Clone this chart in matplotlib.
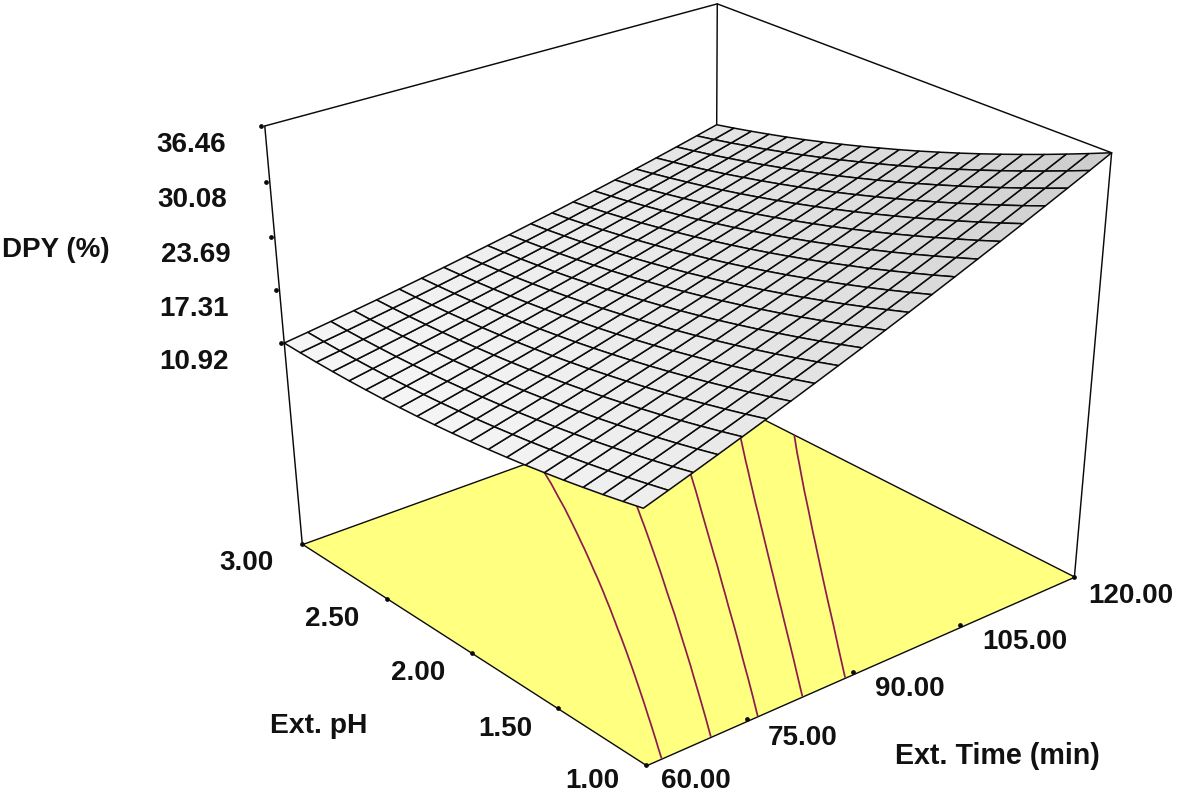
import numpy as np
import matplotlib
matplotlib.use('Agg')
import matplotlib.pyplot as plt
from mpl_toolkits.mplot3d.art3d import Poly3DCollection

# ---- data ----
time_grid = [60, 63, 66, 69, 72, 75, 78, 81, 84, 87, 90, 93, 96, 99, 102, 105, 108, 111, 114, 117, 120]
ph_grid = [1.0, 1.1, 1.2, 1.3, 1.4, 1.5, 1.6, 1.7, 1.8, 1.9, 2.0, 2.1, 2.2, 2.3, 2.4, 2.5, 2.6, 2.7, 2.8, 2.9, 3.0]
# one row per pH, one column per time
dpy = [
 [15.40,16.33,17.27,18.23,19.20,20.18,21.17,22.18,23.20,24.23,25.28,26.34,27.41,28.50,29.60,30.71,31.83,32.97,34.12,35.28,36.46],
 [14.88,15.79,16.70,17.63,18.58,19.53,20.50,21.49,22.48,23.49,24.51,25.55,26.59,27.65,28.73,29.81,30.91,32.02,33.15,34.29,35.44],
 [14.39,15.27,16.17,17.07,17.99,18.92,19.86,20.82,21.79,22.77,23.77,24.78,25.80,26.84,27.89,28.95,30.02,31.11,32.21,33.32,34.45],
 [13.94,14.79,15.66,16.54,17.43,18.34,19.26,20.19,21.13,22.09,23.06,24.04,25.04,26.05,27.07,28.11,29.16,30.22,31.30,32.38,33.48],
 [13.51,14.34,15.18,16.04,16.90,17.78,18.68,19.58,20.50,21.44,22.38,23.34,24.31,25.29,26.29,27.30,28.33,29.36,30.41,31.47,32.55],
 [13.12,13.92,14.74,15.56,16.41,17.26,18.13,19.01,19.90,20.81,21.73,22.66,23.61,24.57,25.54,26.52,27.52,28.53,29.56,30.59,31.64],
 [12.75,13.53,14.32,15.12,15.94,16.77,17.61,18.47,19.33,20.22,21.11,22.02,22.94,23.87,24.82,25.77,26.75,27.73,28.73,29.74,30.76],
 [12.42,13.17,13.94,14.71,15.50,16.31,17.12,17.95,18.79,19.65,20.52,21.40,22.29,23.20,24.12,25.05,26.00,26.96,27.93,28.92,29.91],
 [12.12,12.85,13.58,14.33,15.10,15.88,16.67,17.47,18.29,19.11,19.96,20.81,21.68,22.56,23.45,24.36,25.28,26.22,27.16,28.12,29.09],
 [11.85,12.55,13.26,13.99,14.72,15.47,16.24,17.02,17.81,18.61,19.42,20.25,21.10,21.95,22.82,23.70,24.59,25.50,26.42,27.35,28.29],
 [11.61,12.28,12.97,13.67,14.38,15.10,15.84,16.59,17.36,18.13,18.92,19.73,20.54,21.37,22.21,23.07,23.93,24.81,25.71,26.62,27.53],
 [11.40,12.05,12.71,13.38,14.06,14.76,15.47,16.20,16.94,17.69,18.45,19.23,20.02,20.82,21.63,22.46,23.30,24.16,25.02,25.91,26.80],
 [11.22,11.84,12.48,13.12,13.78,14.45,15.14,15.84,16.55,17.27,18.01,18.76,19.52,20.30,21.08,21.89,22.70,23.53,24.37,25.22,26.09],
 [11.08,11.67,12.28,12.90,13.53,14.17,14.83,15.50,16.19,16.88,17.59,18.32,19.05,19.80,20.57,21.34,22.13,22.93,23.74,24.57,25.41],
 [10.96,11.53,12.11,12.70,13.31,13.92,14.56,15.20,15.86,16.53,17.21,17.91,18.62,19.34,20.07,20.82,21.58,22.36,23.15,23.95,24.76],
 [10.88,11.42,11.97,12.54,13.11,13.70,14.31,14.93,15.56,16.20,16.86,17.53,18.21,18.91,19.61,20.34,21.07,21.82,22.58,23.35,24.13],
 [10.82,11.34,11.86,12.40,12.95,13.52,14.09,14.68,15.29,15.90,16.53,17.18,17.83,18.50,19.18,19.88,20.58,21.30,22.04,22.78,23.54],
 [10.80,11.29,11.79,12.30,12.82,13.36,13.91,14.47,15.05,15.64,16.24,16.85,17.48,18.12,18.78,19.45,20.13,20.82,21.53,22.25,22.98],
 [10.81,11.27,11.74,12.22,12.72,13.23,13.75,14.29,14.84,15.40,15.97,16.56,17.16,17.78,18.40,19.04,19.70,20.36,21.04,21.73,22.44],
 [10.85,11.28,11.72,12.18,12.65,13.13,13.63,14.14,14.66,15.19,15.74,16.30,16.87,17.46,18.06,18.67,19.30,19.94,20.59,21.25,21.93],
 [10.92,11.32,11.74,12.17,12.61,13.06,13.53,14.01,14.51,15.02,15.53,16.07,16.61,17.17,17.75,18.33,18.93,19.54,20.16,20.80,21.45],
]
contour_levels = [16, 18, 20, 22, 24]
z_tick_labels = ['36.46', '30.08', '23.69', '17.31', '10.92']
z_ticks = [36.46, 30.08, 23.69, 17.31, 10.92]
time_tick_labels = ['60.00', '75.00', '90.00', '105.00', '120.00']
ph_tick_labels = ['1.00', '1.50', '2.00', '2.50', '3.00']
time_tick_marks = [73.3, 87.8, 103.1]
ph_tick_marks = [1.47, 1.95, 2.46]
T_MIN, T_MAX, P_MIN, P_MAX, Z_FLOOR, Z_TOP = 60, 120, 1, 3, -15.0, 36.46

W, H = 1178, 795
fig = plt.figure(figsize=(W / 100, H / 100), dpi=100)
ax = fig.add_axes([0, 0, 1, 1], projection='3d', computed_zorder=False)
ax.apply_aspect = lambda position=None: None
ax.set_position([0, 0, 1, 1])
ax.set_axis_off()
ax.set_proj_type('ortho')  # the matrix below carries the perspective; this only turns off line clipping

# ---- camera: perspective matrix calibrated on the box corners (image pixels) ----
calib = [(60, 1, Z_FLOOR, 646.7, 766), (120, 1, Z_FLOOR, 1074, 576), (60, 3, Z_FLOOR, 301.7, 542.7),
         (120, 3, Z_FLOOR, 716, 396), (60, 3, Z_TOP, 265, 126.7), (120, 1, Z_TOP, 1111.7, 152.7),
         (120, 3, Z_TOP, 717, 3.3)]
S = np.array([[1 / 30, 0, 0, -3], [0, 1, 0, -2], [0, 0, 1 / 24, -0.5], [0, 0, 0, 1.0]])
rows = []
for t, p, z, x, y in calib:
    X = S @ np.array([t, p, z, 1.0])
    rows.append(np.r_[X, 0 * X, -x / 1000 * X])
    rows.append(np.r_[0 * X, X, -y / 1000 * X])
Pm = np.linalg.svd(np.array(rows))[2][-1].reshape(3, 4)
Pm[:2] *= 1000
inv = ax.transData.inverted()
x0, y0 = inv.transform((0, H))
x1, y1 = inv.transform((W, 0))
row_x = (x0 * Pm[2] + (x1 - x0) / W * Pm[0]) @ S
row_y = (y0 * Pm[2] + (y1 - y0) / H * Pm[1]) @ S
row_w = Pm[2] @ S
row_d = np.array([0, 0, 0.01, 0.0])
M = np.array([row_x, row_y, row_d, row_w])
ax.get_proj = lambda: M

INK = '#0a0a0a'
# floor
floor = Poly3DCollection([[(T_MIN, P_MIN, Z_FLOOR), (T_MAX, P_MIN, Z_FLOOR),
                           (T_MAX, P_MAX, Z_FLOOR), (T_MIN, P_MAX, Z_FLOOR)]],
                         facecolor='#FFFF80', edgecolor=INK, linewidth=1.0, zorder=1)
ax.add_collection3d(floor)

# surface and its contours projected on the floor
T, P = np.meshgrid(time_grid, ph_grid)
Z = np.array(dpy)
cs = ax.contour(T, P, Z, levels=contour_levels, zdir='z', offset=Z_FLOOR,
                colors='#8E1B50', linewidths=1.25, zorder=2)
gray = 0.96 - (Z - 10.92) / 25.54 * 0.16
fc = np.dstack([gray, gray, gray, np.ones_like(gray)])
ax.plot_surface(T, P, Z, rstride=1, cstride=1, facecolors=fc, edgecolor=INK, linewidth=1.1,
                shade=False, antialiased=True, zorder=4)

# box edges
edge_kw = dict(color=INK, lw=1.05, solid_capstyle='round')
ax.plot([T_MIN, T_MAX, T_MAX], [P_MAX, P_MAX, P_MIN], [Z_TOP, Z_TOP, Z_TOP], zorder=5, **edge_kw)
ax.plot([T_MIN, T_MIN], [P_MAX, P_MAX], [Z_FLOOR, Z_TOP], zorder=5, **edge_kw)
ax.plot([T_MAX, T_MAX], [P_MIN, P_MIN], [Z_FLOOR, Z_TOP], zorder=5, **edge_kw)
ax.plot([T_MAX, T_MAX], [P_MAX, P_MAX], [Z_FLOOR, Z_TOP], zorder=3, **edge_kw)

# tick marks
mk = dict(linestyle='none', marker='o', ms=2.4, color=INK, zorder=6)
ax.plot([T_MIN - 0.25] * len(z_ticks), [P_MAX + 0.01] * len(z_ticks), z_ticks, **mk)
ax.plot(time_tick_marks, [P_MIN + 0.012] * len(time_tick_marks), [Z_FLOOR] * len(time_tick_marks), **mk)
ax.plot([T_MIN] * len(ph_tick_marks), ph_tick_marks, [Z_FLOOR] * len(ph_tick_marks), **mk)
ax.plot([T_MIN, T_MAX, T_MIN], [P_MIN, P_MIN, P_MAX], [Z_FLOOR] * 3, **mk)

# texts (left edge, baseline in image pixels)
def label(s, x, y, size=20):
    fig.text(x / W, 1 - y / H, s, family='Liberation Sans', weight='bold', fontsize=size,
             color='#111111', ha='left', va='baseline')

for s, x, y in zip(z_tick_labels, [156, 157.5, 161, 159.5, 159.5], [151.7, 207.3, 261.7, 316, 369.3]):
    label(s, x, y)
label('DPY (%)', 2, 256.7)
for s, x, y in zip(ph_tick_labels, [565, 478, 390.5, 304.5, 219.5], [788.5, 736, 680, 626, 570]):
    label(s, x, y)
label('Ext. pH', 269.5, 732.7, 20.3)
for s, x, y in zip(time_tick_labels, [661, 768, 875.5, 982.5, 1088.5], [788.5, 745, 696, 649.3, 602.7]):
    label(s, x, y)
label('Ext. Time (min)', 895, 764, 20.6)

fig.savefig('out.png', dpi=100)
